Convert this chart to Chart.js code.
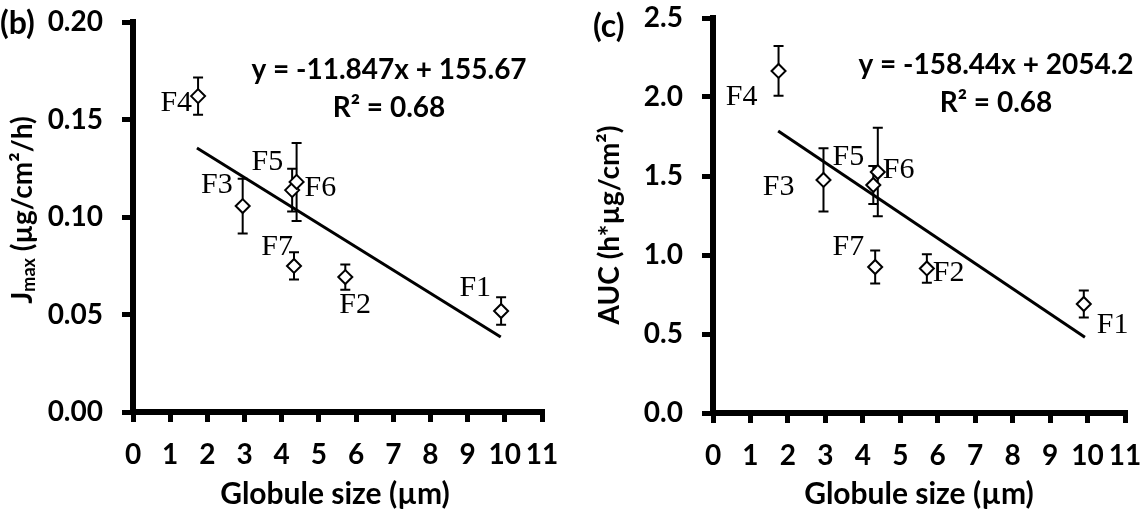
<!DOCTYPE html>
<html>
<head>
<meta charset="utf-8">
<script src="https://cdn.jsdelivr.net/npm/chart.js@4.4.0/dist/chart.umd.min.js"></script>
<style>
  html, body { margin: 0; padding: 0; background: #fff; }
  #wrap { position: relative; width: 1146px; height: 516px; }
  .panel { position: absolute; top: 0; width: 573px; height: 516px; }
</style>
</head>
<body>
<div id="wrap">
  <div class="panel" style="left:0"><canvas id="chartB"></canvas></div>
  <div class="panel" style="left:573px"><canvas id="chartC"></canvas></div>
</div>
<script>
// data
const formulations = ["F1", "F2", "F3", "F4", "F5", "F6", "F7"];
const globuleSize = [9.90, 5.71, 2.95, 1.75, 4.28, 4.40, 4.33];
const jmax    = [0.0518, 0.0692, 0.1056, 0.1620, 0.1138, 0.1180, 0.0749];
const jmaxErr = [0.0070, 0.0065, 0.0140, 0.0095, 0.0110, 0.0200, 0.0070];
const auc     = [0.690, 0.915, 1.475, 2.165, 1.443, 1.525, 0.924];
const aucErr  = [0.085, 0.090, 0.200, 0.157, 0.120, 0.280, 0.105];

// trend line end points (as drawn)
const trendXB = [1.72, 9.89];
const jmaxTrend = [0.1354, 0.0385];
const trendXC = [1.74, 9.93];
const aucTrend = [1.785, 0.480];

const xTicks = [0, 1, 2, 3, 4, 5, 6, 7, 8, 9, 10, 11];
const jmaxTicks = [0, 0.05, 0.10, 0.15, 0.20];
const aucTicks = [0, 0.5, 1.0, 1.5, 2.0, 2.5];

const SANS = "Lato, 'Open Sans', sans-serif";
const SERIF = "'Liberation Serif', 'DejaVu Serif', serif";

Chart.defaults.font.family = SANS;
Chart.defaults.font.weight = "bold";
Chart.defaults.color = "#000";

// label placement relative to each marker: [dx, dy, align]
const labelPosB = {
  F1: [-10, -23, "right"], F2: [-6, 28, "left"], F3: [-10, -21, "right"],
  F4: [-6, 7, "right"], F5: [-9, -28, "right"], F6: [8, 6, "left"], F7: [-1, -19, "right"]
};
const labelPosC = {
  F1: [13, 21, "left"], F2: [6, 5, "left"], F3: [-29, 7, "right"],
  F4: [-21, 26, "right"], F5: [-9, -28, "right"], F6: [5, -2, "left"], F7: [-11, -20, "right"]
};

function drawYTitle(ctx, x, y, parts) {
  ctx.save();
  ctx.translate(x, y);
  ctx.rotate(-Math.PI / 2);
  ctx.fillStyle = "#000";
  ctx.textBaseline = "middle";
  ctx.textAlign = "left";
  let total = 0;
  parts.forEach(p => { ctx.font = p.font; total += ctx.measureText(p.text).width; });
  let cx = -total / 2;
  parts.forEach(p => {
    ctx.font = p.font;
    ctx.fillText(p.text, cx, p.dy || 0);
    cx += ctx.measureText(p.text).width;
  });
  ctx.restore();
}

function panelPlugin(opts) {
  return {
    id: "panelExtras",
    beforeDatasetsDraw(chart) {
      const ctx = chart.ctx, xs = chart.scales.x, ys = chart.scales.y;
      ctx.save();
      ctx.strokeStyle = "#000";
      ctx.lineWidth = 2;
      globuleSize.forEach((gx, i) => {
        const px = xs.getPixelForValue(gx);
        const top = ys.getPixelForValue(opts.values[i] + opts.errors[i]);
        const bot = ys.getPixelForValue(opts.values[i] - opts.errors[i]);
        ctx.beginPath();
        ctx.moveTo(px, top); ctx.lineTo(px, bot);
        ctx.moveTo(px - 5, top); ctx.lineTo(px + 5, top);
        ctx.moveTo(px - 5, bot); ctx.lineTo(px + 5, bot);
        ctx.stroke();
      });
      ctx.restore();
    },
    afterDraw(chart) {
      const ctx = chart.ctx, xs = chart.scales.x, ys = chart.scales.y;
      ctx.save();
      ctx.fillStyle = "#000";
      // point labels
      ctx.font = "30px " + SERIF;
      ctx.textBaseline = "middle";
      formulations.forEach((name, i) => {
        const p = opts.labelPos[name];
        ctx.textAlign = p[2];
        ctx.fillText(name, xs.getPixelForValue(globuleSize[i]) + p[0],
                     ys.getPixelForValue(opts.values[i]) + p[1]);
      });
      // panel letter
      ctx.font = "bold 32px " + SANS;
      ctx.textAlign = "left";
      ctx.fillText(opts.letter, opts.letterPos[0], opts.letterPos[1]);
      // equation
      ctx.font = "bold 28px " + SANS;
      ctx.textAlign = "center";
      ctx.fillText(opts.equation, opts.eqPos[0], opts.eqPos[1]);
      ctx.fillText("R² = 0.68", opts.eqPos[0], opts.eqPos[1] + 38);
      // x title
      ctx.font = "bold 30px " + SANS;
      ctx.fillText("Globule size (µm)", opts.xTitlePos[0], opts.xTitlePos[1]);
      ctx.restore();
      drawYTitle(ctx, opts.yTitlePos[0], opts.yTitlePos[1], opts.yTitle);
    }
  };
}

function makeChart(id, o) {
  const tickFont = { family: SANS, weight: "bold", size: 28 };
  return new Chart(document.getElementById(id), {
    type: "scatter",
    data: {
      datasets: [
        {
          data: globuleSize.map((x, i) => ({ x: x, y: o.values[i] })),
          pointStyle: "rectRot",
          pointRadius: 7,
          pointBackgroundColor: "#fff",
          pointBorderColor: "#000",
          pointBorderWidth: 2,
          order: 0
        },
        {
          type: "line",
          data: o.trendX.map((x, i) => ({ x: x, y: o.trend[i] })),
          borderColor: "#000",
          borderWidth: 3,
          pointRadius: 0,
          fill: false,
          order: 1
        }
      ]
    },
    options: {
      responsive: true,
      maintainAspectRatio: false,
      animation: false,
      layout: { padding: { top: o.padTop, right: o.padRight, left: 0, bottom: 0 } },
      plugins: { legend: { display: false }, tooltip: { enabled: false } },
      scales: {
        x: {
          type: "linear", min: 0, max: 11,
          afterBuildTicks: s => { s.ticks = xTicks.map(v => ({ value: v })); },
          afterFit: s => { s.height = o.xAxisHeight; s.paddingLeft = 0; s.paddingRight = 0; },
          border: { display: true, color: "#000", width: 6 },
          grid: { display: true, drawOnChartArea: false, drawTicks: true, lineWidth: 5, color: "#000", tickLength: 10, tickWidth: 5, tickColor: "#000" },
          ticks: { color: "#000", font: tickFont, padding: 16, maxRotation: 0, autoSkip: false }
        },
        y: {
          type: "linear", min: 0, max: o.yMax,
          afterBuildTicks: s => { s.ticks = o.yTicks.map(v => ({ value: v })); },
          afterFit: s => { s.width = o.yAxisWidth; s.paddingTop = 0; s.paddingBottom = 0; },
          border: { display: true, color: "#000", width: 6 },
          grid: { display: true, drawOnChartArea: false, drawTicks: true, lineWidth: 5, color: "#000", tickLength: 11, tickWidth: 5, tickColor: "#000" },
          ticks: { color: "#000", font: tickFont, padding: 19, callback: v => v.toFixed(o.decimals) }
        }
      }
    },
    plugins: [panelPlugin(o)]
  });
}

makeChart("chartB", {
  values: jmax, errors: jmaxErr, trendX: trendXB, trend: jmaxTrend,
  yTicks: jmaxTicks, yMax: 0.20, decimals: 2,
  padTop: 22, padRight: 31, yAxisWidth: 133, xAxisHeight: 104,
  labelPos: labelPosB,
  letter: "(b)", letterPos: [0, 24],
  equation: "y = -11.847x + 155.67", eqPos: [389, 70],
  xTitlePos: [335, 494], yTitlePos: [23, 210],
  yTitle: [
    { text: "J", font: "bold 28px " + SANS },
    { text: "max", font: "bold 18px " + SANS, dy: 6 },
    { text: " (µg/cm²/h)", font: "bold 28px " + SANS }
  ]
});

makeChart("chartC", {
  values: auc, errors: aucErr, trendX: trendXC, trend: aucTrend,
  yTicks: aucTicks, yMax: 2.5, decimals: 1,
  padTop: 18, padRight: 21, yAxisWidth: 140, xAxisHeight: 103,
  labelPos: labelPosC,
  letter: "(c)", letterPos: [20, 27],
  equation: "y = -158.44x + 2054.2", eqPos: [423, 65],
  xTitlePos: [346, 494], yTitlePos: [37, 225],
  yTitle: [
    { text: "AUC (h*µg/cm²)", font: "bold 28px " + SANS }
  ]
});
</script>
</body>
</html>
